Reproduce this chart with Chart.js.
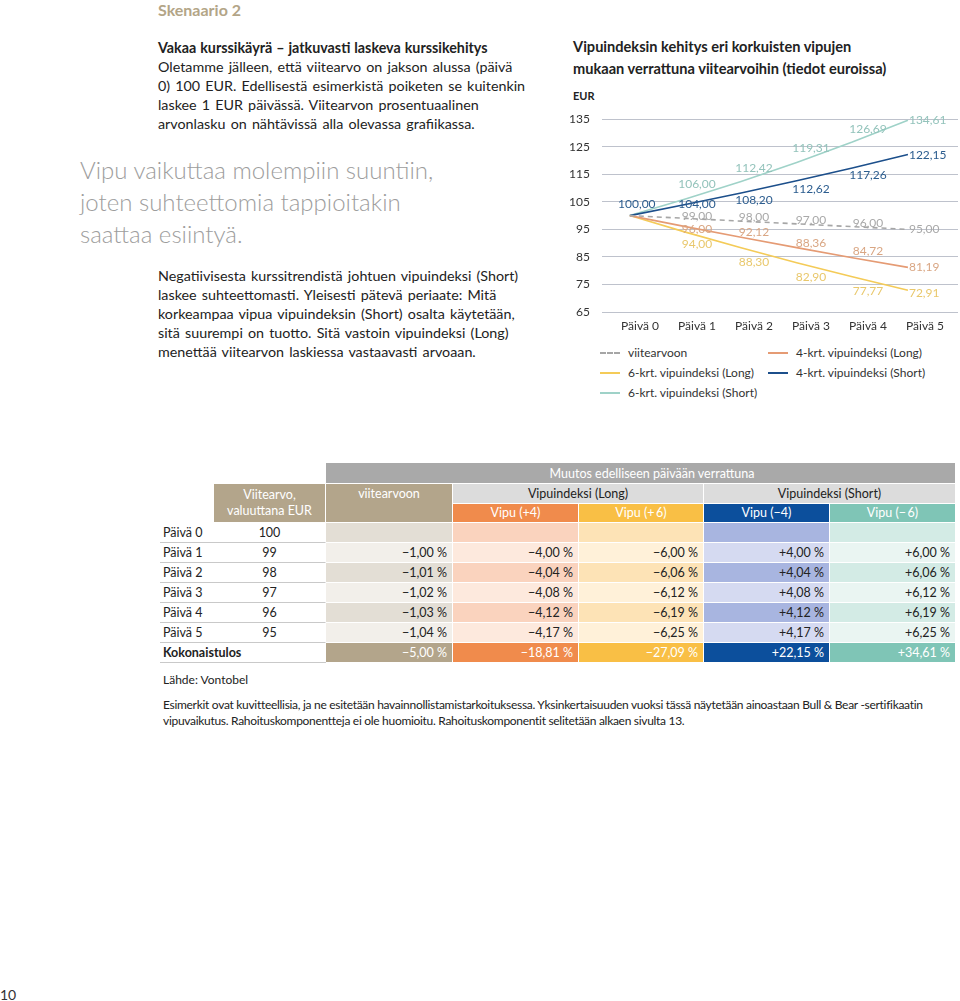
<!DOCTYPE html>
<html lang="fi">
<head>
<meta charset="utf-8">
<script src="https://cdn.jsdelivr.net/npm/chart.js@4.4.1/dist/chart.umd.min.js"></script>
<style>
  body { margin:0; width:960px; height:1001px; position:relative; overflow:hidden; background:#fff;
         font-family: Lato, "Open Sans", sans-serif; color:#222; }
  .abs { position:absolute; white-space:nowrap; }
  .body { font-size:14.3px; line-height:19px; word-spacing:1.5px; }
  #tbl { position:absolute; left:160px; top:463px; border-collapse:separate; border-spacing:0; table-layout:fixed;
         font-size:12.5px; }
  #tbl td { padding:0 5px; height:19px; line-height:19px; border-right:1px solid #fff; border-bottom:1px solid #fff;
            white-space:nowrap; overflow:hidden; }
  #tbl td.num { text-align:right; }
  #tbl td.lab { border-bottom:1px solid #c9c9c9; border-right:none; padding-left:3px; }
  #tbl td.val { border-bottom:1px solid #c9c9c9; text-align:center; }
  #tbl td.h { text-align:center; color:#fff; }
  #legend { position:absolute; left:600px; top:343px; display:grid; grid-template-columns:168px 170px; row-gap:0; font-size:12px; color:#333; }
  #legend div { height:20px; line-height:20px; display:flex; align-items:center; white-space:nowrap; }
  #legend span.sw { display:inline-block; width:20px; height:0; border-top:2px solid; margin-right:8px; }
</style>
</head>
<body>

<div class="abs" style="left:158px; top:0px; font-size:16px; font-weight:bold; color:#b3a587;">Skenaario 2</div>

<div class="abs body" style="left:158px; top:38px;">
  <b style="word-spacing:0.5px">Vakaa kurssikäyrä – jatkuvasti laskeva kurssikehitys</b><br>
  Oletamme jälleen, että viitearvo on jakson alussa (päivä<br>
  0) 100 EUR. Edellisestä esimerkistä poiketen se kuitenkin<br>
  laskee 1 EUR päivässä. Viitearvon prosentuaalinen<br>
  arvonlasku on nähtävissä alla olevassa grafiikassa.
</div>

<div class="abs" style="left:80px; top:154px; font-size:24px; line-height:32px; font-weight:300; color:#9d9d9d;">
  Vipu vaikuttaa molempiin suuntiin,<br>
  joten suhteettomia tappioitakin<br>
  saattaa esiintyä.
</div>

<div class="abs body" style="left:158px; top:266px;">
  Negatiivisesta kurssitrendistä johtuen vipuindeksi (Short)<br>
  laskee suhteettomasti. Yleisesti pätevä periaate: Mitä<br>
  korkeampaa vipua vipuindeksin (Short) osalta käytetään,<br>
  sitä suurempi on tuotto. Sitä vastoin vipuindeksi (Long)<br>
  menettää viitearvon laskiessa vastaavasti arvoaan.
</div>

<div class="abs" style="left:573px; top:36px; font-size:14.6px; line-height:22px; font-weight:bold; color:#222;">
  Vipuindeksin kehitys eri korkuisten vipujen<br>
  mukaan verrattuna viitearvoihin (tiedot euroissa)
</div>
<div class="abs" style="left:573px; top:89px; font-size:11px; font-weight:bold; color:#222;">EUR</div>

<div class="abs" style="left:560px; top:100px; width:400px; height:236px;">
  <canvas id="chart" width="400" height="236"></canvas>
</div>
<div id="legend"></div>

<table id="tbl">
  <colgroup>
    <col style="width:54px"><col style="width:112px"><col style="width:127px"><col style="width:126px">
    <col style="width:125px"><col style="width:126px"><col style="width:126px">
  </colgroup>
  <tbody id="tbody"></tbody>
</table>

<div class="abs" style="left:163px; top:672px; font-size:12px;">Lähde: Vontobel</div>
<div class="abs" style="left:163px; top:697px; font-size:12px; line-height:16px; letter-spacing:-0.3px;">
  Esimerkit ovat kuvitteellisia, ja ne esitetään havainnollistamistarkoituksessa. Yksinkertaisuuden vuoksi tässä näytetään ainoastaan Bull &amp; Bear -sertifikaatin<br>
  vipuvaikutus. Rahoituskomponentteja ei ole huomioitu. Rahoituskomponentit selitetään alkaen sivulta 13.
</div>

<div class="abs" style="left:0px; top:986px; font-size:14px; color:#333;">10</div>

<script>
// päivät ja y-akselin jaot
const dayLabels = ["Päivä 0", "Päivä 1", "Päivä 2", "Päivä 3", "Päivä 4", "Päivä 5"];
const yTicks = [65, 75, 85, 95, 105, 115, 125, 135];

// kuvaajan sarjat (EUR)
const viitearvoon = [100, 99, 98, 97, 96, 95];
const long4 = [100, 96.00, 92.12, 88.36, 84.72, 81.19];
const long6 = [100, 94.00, 88.30, 82.90, 77.77, 72.91];
const short4 = [100, 104.00, 108.20, 112.62, 117.26, 122.15];
const short6 = [100, 106.00, 112.42, 119.31, 126.69, 134.61];

// taulukko
const viitearvo = [100, 99, 98, 97, 96, 95];
const chgViite = [null, -1.00, -1.01, -1.02, -1.03, -1.04];
const chgLong4 = [null, -4.00, -4.04, -4.08, -4.12, -4.17];
const chgLong6 = [null, -6.00, -6.06, -6.12, -6.19, -6.25];
const chgShort4 = [null, 4.00, 4.04, 4.08, 4.12, 4.17];
const chgShort6 = [null, 6.00, 6.06, 6.12, 6.19, 6.25];
const totals = [-5.00, -18.81, -27.09, 22.15, 34.61];

const fmt = v => v.toFixed(2).replace(".", ",");
const pct = v => (v < 0 ? "\u2212" : "+") + fmt(Math.abs(v)) + "\u202F%";

// sarjojen tyylit, legendan järjestyksessä
const series = [
  { label: "viitearvoon", data: viitearvoon, color: "#a6a6a6", text: "#a9a9a9", dash: [5, 4], dy: [0, -2, -4, -4, -3, 0] },
  { label: "4-krt. vipuindeksi (Long)", data: long4, color: "#e59b74", text: "#d9a683", dy: [0, 3, -5, -5, -7, 0] },
  { label: "6-krt. vipuindeksi (Long)", data: long6, color: "#f4cb58", text: "#e9c86c", dy: [0, 12, 14, 14, 14, 3] },
  { label: "4-krt. vipuindeksi (Short)", data: short4, color: "#1c4f8b", text: "#2c5d8f", dy: [-11, 0, 7, 8, 7, 1], showStart: true },
  { label: "6-krt. vipuindeksi (Short)", data: short6, color: "#9fd2c8", text: "#93c3bb", dy: [0, -15, -13, -14, -13, 0] }
];

const valueLabels = {
  id: "valueLabels",
  afterDatasetsDraw(chart) {
    const ctx = chart.ctx;
    const xl = chart.scales.xl;
    ctx.save();
    ctx.font = "12px Lato";
    ctx.textBaseline = "middle";
    chart.data.datasets.forEach((ds, di) => {
      const meta = chart.getDatasetMeta(di);
      meta.data.forEach((pt, i) => {
        if (i === 0 && !ds.showStart) return;
        let x;
        if (i === 0) { x = pt.x + 7; ctx.textAlign = "center"; }
        else if (i === meta.data.length - 1) { x = pt.x + 1; ctx.textAlign = "left"; }
        else { x = xl.getPixelForValue(i); ctx.textAlign = "center"; }
        ctx.fillStyle = ds.labelColor;
        ctx.fillText(fmt(ds.data[i].y), x, pt.y + ds.labelDy[i]);
      });
    });
    ctx.restore();
  }
};

new Chart(document.getElementById("chart"), {
  type: "line",
  data: {
    datasets: series.map(s => ({
      label: s.label,
      data: s.data.map((v, i) => ({ x: i, y: v })),
      borderColor: s.color,
      borderWidth: 1.6,
      borderDash: s.dash || [],
      pointRadius: 0,
      tension: 0,
      labelColor: s.text,
      labelDy: s.dy,
      showStart: !!s.showStart
    }))
  },
  options: {
    responsive: false,
    animation: false,
    layout: { padding: { top: 17, right: 2, bottom: 0, left: 0 } },
    plugins: { legend: { display: false }, tooltip: { enabled: false } },
    scales: {
      x: { type: "linear", min: -0.5, max: 5.9, display: false },
      xl: {
        type: "linear", position: "bottom", min: -38 / 57, max: -38 / 57 + 356 / 57,
        grid: { display: false, drawTicks: false }, border: { display: false },
        afterBuildTicks: s => { s.ticks = dayLabels.map((_, i) => ({ value: i })); },
        afterFit: s => { s.height = 24; },
        ticks: { callback: v => dayLabels[v], autoSkip: false, maxRotation: 0, padding: 7,
                 font: { family: "Lato", size: 12 }, color: "#333" }
      },
      y: {
        min: 65, max: 135,
        afterBuildTicks: s => { s.ticks = yTicks.map(v => ({ value: v })); },
        afterFit: s => { s.width = 42; },
        grid: { color: "#bec2cc", lineWidth: 1, drawTicks: false },
        border: { display: false },
        ticks: { padding: 12, font: { family: "Lato", size: 12 }, color: "#333" }
      }
    }
  },
  plugins: [valueLabels]
});

// legenda
const legend = document.getElementById("legend");
series.forEach(s => {
  const d = document.createElement("div");
  const sw = document.createElement("span");
  sw.className = "sw";
  sw.style.borderTopColor = s.color;
  if (s.dash) sw.style.borderTopStyle = "dashed";
  d.appendChild(sw);
  d.appendChild(document.createTextNode(s.label));
  legend.appendChild(d);
});

// taulukko
const cols = [
  { data: chgViite, even: "#e3ded5", odd: "#f2efea", head: "#b3a58b" },
  { data: chgLong4, even: "#fad3be", odd: "#fde9dd", head: "#f08b4c" },
  { data: chgLong6, even: "#fde3b6", odd: "#fff1d9", head: "#f9bf45" },
  { data: chgShort4, even: "#a8b5e0", odd: "#d5daf1", head: "#0c4f9c" },
  { data: chgShort6, even: "#d3ebe5", odd: "#eaf5f2", head: "#7fc5b6" }
];
let html = "";
html += '<tr><td rowspan="3" style="border:none"></td><td style="border:none"></td>' +
        '<td colspan="5" class="h" style="background:#a9a9a9; height:20px; padding-left:28px">Muutos edelliseen päivään verrattuna</td></tr>';
html += '<tr><td rowspan="2" class="h" style="background:#b3a58b; line-height:16px; vertical-align:middle">Viitearvo,<br>valuuttana EUR</td>' +
        '<td rowspan="2" class="h" style="background:#b3a58b; vertical-align:top">viitearvoon</td>' +
        '<td colspan="2" style="background:#dcdcdc; text-align:center">Vipuindeksi (Long)</td>' +
        '<td colspan="2" style="background:#dcdcdc; text-align:center">Vipuindeksi (Short)</td></tr>';
html += '<tr>' + ["Vipu (+4)", "Vipu (+\u20096)", "Vipu (\u22124)", "Vipu (\u2212\u20096)"]
  .map((t, i) => `<td class="h" style="background:${cols[i + 1].head}; height:18px; line-height:18px">${t}</td>`).join("") + '</tr>';
dayLabels.forEach((day, r) => {
  html += `<tr><td class="lab">${day}</td><td class="val">${viitearvo[r]}</td>`;
  cols.forEach(c => {
    const v = c.data[r];
    html += `<td class="num" style="background:${r % 2 ? c.odd : c.even}">${v === null ? "" : pct(v)}</td>`;
  });
  html += "</tr>";
});
html += '<tr><td colspan="2" class="lab" style="font-weight:bold">Kokonaistulos</td>';
cols.forEach((c, i) => {
  html += `<td class="num" style="background:${c.head}; color:#fff">${pct(totals[i])}</td>`;
});
html += "</tr>";
document.getElementById("tbody").innerHTML = html;
</script>
</body>
</html>
